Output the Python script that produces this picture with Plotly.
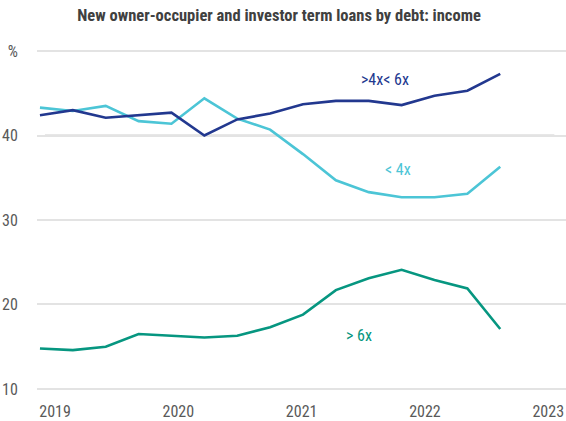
import plotly.graph_objects as go

title = "New owner-occupier and investor term loans by debt: income"
idx = list(range(15))
mid = [42.4, 43.0, 42.1, 42.4, 42.7, 40.0, 41.9, 42.6, 43.7, 44.1, 44.1, 43.6, 44.7, 45.3, 47.3]
low = [43.3, 42.9, 43.5, 41.7, 41.4, 44.4, 42.0, 40.7, 37.8, 34.7, 33.3, 32.7, 32.7, 33.1, 36.3]
high = [14.8, 14.6, 15.0, 16.5, 16.3, 16.1, 16.3, 17.3, 18.8, 21.7, 23.1, 24.1, 22.9, 21.9, 17.1]
year_labels = ["2019", "2020", "2021", "2022", "2023"]
year_pos = [0.46 + 3.75 * k for k in range(5)]
ytick_vals = [10, 20, 30, 40, 50]
ytick_text = ["10", "20", "30", "40", "%"]

NAVY = "#22388f"
CYAN = "#4cc5d6"
GREEN = "#069680"
FONT = "Roboto Condensed, Arial Narrow, sans-serif"

fig = go.Figure()
for y, c in [(low, CYAN), (mid, NAVY), (high, GREEN)]:
    fig.add_trace(go.Scatter(x=idx, y=y, mode="lines", line=dict(color=c, width=2.6),
                             showlegend=False, hoverinfo="skip"))

fig.add_shape(type="line", xref="paper", yref="y", x0=0.015, x1=0.978, y0=40, y1=40,
              line=dict(color="#d0d0d0", width=2), layer="below")

for txt, x, y, c in [(">4x< 6x", 10.5, 46.6, NAVY), ("< 4x", 10.9, 36.0, CYAN), ("> 6x", 9.7, 16.3, GREEN)]:
    fig.add_annotation(x=x, y=y, text=txt, showarrow=False, font=dict(color=c, size=16, family=FONT))

fig.update_layout(
    width=566, height=421,
    margin=dict(l=37, r=0, t=50, b=31),
    paper_bgcolor="white", plot_bgcolor="white",
    title=dict(text="<b>" + title + "</b>", x=0.493, xanchor="center", y=0.964, yanchor="middle",
               font=dict(size=16.5, color="#404040", family=FONT)),
    font=dict(family=FONT, color="#595959", size=16),
    xaxis=dict(range=[-0.09, 16.0], tickvals=year_pos, ticktext=year_labels, showgrid=False,
               zeroline=False, showline=False, ticks="outside", ticklen=7, tickcolor="rgba(0,0,0,0)",
               tickfont=dict(size=16, color="#595959")),
    yaxis=dict(range=[9.88, 50.12], tickvals=ytick_vals, ticktext=ytick_text, showgrid=True,
               gridcolor="#e3e3e3", gridwidth=1.5, zeroline=False, showline=False,
               ticks="outside", ticklen=15, tickcolor="rgba(0,0,0,0)",
               tickfont=dict(size=16, color="#595959")),
)
fig.write_html("out.html", config={"displayModeBar": False},
               post_script="document.body.style.margin='0';")
